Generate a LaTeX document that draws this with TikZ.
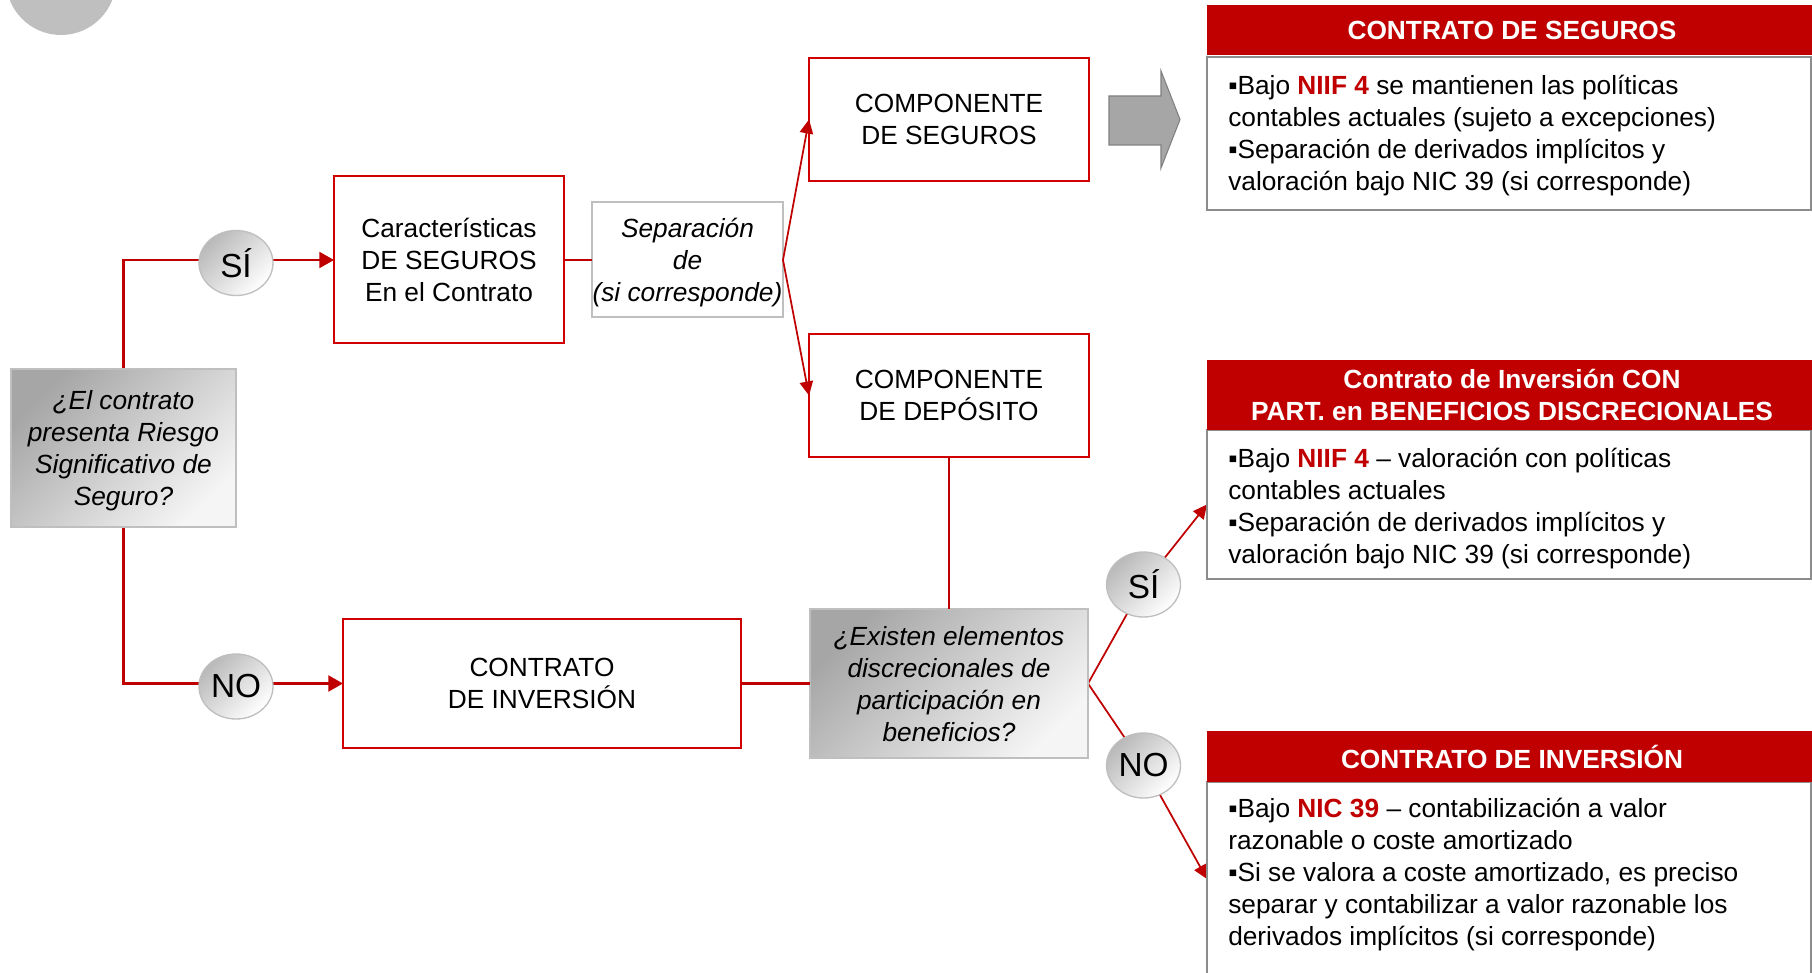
\documentclass[tikz,border=0pt]{standalone}
\usepackage{fontspec}
\setmainfont{Liberation Sans}
\usetikzlibrary{arrows.meta,shapes.geometric}
\pgfdeclarelayer{bg}
\pgfsetlayers{bg,main}
\definecolor{cred}{HTML}{C00000}
\definecolor{bred}{HTML}{D00000}
\definecolor{qgray}{HTML}{A6A6A6}
\definecolor{bgray}{HTML}{BFBFBF}
\definecolor{boxgray}{HTML}{8C8C8C}
\tikzset{
  txt/.style={font=\fontsize{19.7}{24}\selectfont},
  redbox/.style={rectangle, draw=bred, line width=1.5pt, fill=white, inner sep=0pt, outer sep=0pt, align=center, txt, text depth=0pt},
  qbox/.style={rectangle, draw=bgray, line width=1.5pt, inner sep=0pt, outer sep=0pt, align=center, text depth=0pt,
     font=\fontsize{19.7}{24}\selectfont\itshape, top color=qgray, bottom color=white!96!black, shading angle=45},
  sepbox/.style={rectangle, draw=bgray, line width=1.5pt, fill=white, inner sep=0pt, outer sep=0pt, align=center, text depth=0pt,
     font=\fontsize{19.7}{24}\selectfont\itshape},
  yn/.style={ellipse, draw=bgray, line width=1pt, top color=gray!55, bottom color=white, shading angle=45,
     inner sep=0pt, outer sep=0pt, minimum width=55.5pt, minimum height=48.75pt, font=\fontsize{25}{30}\selectfont},
  hdr/.style={rectangle, fill=cred, text=white, font=\bfseries\fontsize{19.7}{24}\selectfont, align=center,
     inner sep=0pt, outer sep=0pt, minimum width=457.5pt},
  bodybox/.style={rectangle, draw=boxgray, line width=1.5pt, fill=white, inner sep=0pt, outer sep=0pt, minimum width=453pt},
  bodytxt/.style={txt, align=left, anchor=west, inner sep=0pt},
  conn/.style={draw=cred, line width=1.6pt},
  arr/.style={conn, -{Triangle[length=11pt,width=12pt]}},
  diag/.style={draw=cred, line width=1.3pt, -{Triangle[length=10.5pt,width=10pt]}},
}
\newcommand{\hl}[1]{\textbf{\textcolor{cred}{#1}}}
\begin{document}
\begin{tikzpicture}[x=0.75pt,y=-0.75pt]
\useasboundingbox (0,0) rectangle (1812,973);
\begin{pgfonlayer}{bg}
\fill[white] (0,0) rectangle (1812,973);
\end{pgfonlayer}
\fill[bgray] (61,-20) circle[radius=41.25pt];

% left flow
\node[qbox, minimum width=168.75pt, minimum height=118.5pt] (q1) at (123.5,448) {¿El contrato\\presenta Riesgo\\Significativo de\\Seguro?};
\node[yn] (si1) at (236,263) {SÍ};
\node[redbox, minimum width=172.5pt, minimum height=125.25pt] (car) at (449,260) {Características\\DE SEGUROS\\En el Contrato};
\node[sepbox, minimum width=143.25pt, minimum height=86.25pt] (sep) at (687.5,260) {Separación\\de\\(si corresponde)};
\node[redbox, minimum width=210pt, minimum height=92.25pt] (seg) at (949,119.5) {COMPONENTE\\DE SEGUROS};
\node[redbox, minimum width=210pt, minimum height=92.25pt] (dep) at (949,395.5) {COMPONENTE\\DE DEPÓSITO};
\node[yn] (no1) at (236,686.5) {NO};
\node[redbox, minimum width=298.5pt, minimum height=96.75pt] (ci) at (542,683.5) {CONTRATO\\DE INVERSIÓN};
\node[qbox, minimum width=208.5pt, minimum height=111.75pt] (q2) at (949,683.5) {¿Existen elementos\\discrecionales de\\participación en\\beneficios?};
\node[yn] (si2) at (1143.5,584.5) {SÍ};
\node[yn] (no2) at (1143.5,765.5) {NO};

% block arrow
\draw[draw=gray, fill=qgray, line width=0.8pt] (1109,96) -- (1161,96) -- (1161,71) -- (1180,119.5) -- (1161,168) -- (1161,145) -- (1109,145) -- cycle;

% right boxes
\node[bodybox, minimum height=114.75pt] (body1) at (1509,133.5) {};
\node[hdr, minimum height=37.5pt] (hdr1) at (1512,30) {CONTRATO DE SEGUROS};
\node[bodytxt] (txt1) at (1228,135.5) {▪Bajo \hl{NIIF 4} se mantienen las políticas\\contables actuales (sujeto a excepciones)\\▪Separación de derivados implícitos y\\valoración bajo NIC 39 (si corresponde)};

\node[bodybox, minimum height=111.75pt] (body2) at (1509,504.5) {};
\node[hdr, minimum height=52.5pt] (hdr2) at (1512,394.5) {Contrato de Inversión CON\\PART. en BENEFICIOS DISCRECIONALES};
\node[bodytxt] (txt2) at (1228,508.5) {▪Bajo \hl{NIIF 4} – valoración con políticas\\contables actuales\\▪Separación de derivados implícitos y\\valoración bajo NIC 39 (si corresponde)};

\node[bodybox, minimum height=145.5pt] (body3) at (1509,879) {};
\node[hdr, minimum height=38.25pt] (hdr3) at (1512,756.5) {CONTRATO DE INVERSIÓN};
\node[bodytxt] (txt3) at (1228,874.5) {▪Bajo \hl{NIC 39} – contabilización a valor\\razonable o coste amortizado\\▪Si se valora a coste amortizado, es preciso\\separar y contabilizar a valor razonable los\\derivados implícitos (si corresponde)};

% connectors
\begin{pgfonlayer}{bg}
\draw[arr] (q1.north) |- (car.west);
\draw[arr] (q1.south) |- (ci.west);
\draw[diag] (q2.east) -- (si2.center) -- (body2.west);
\draw[diag] (q2.east) -- (no2.center) -- (body3.west);
\end{pgfonlayer}
\draw[conn] (car.east) -- (sep.west);
\draw[diag] (sep.east) -- (seg.west);
\draw[diag] (sep.east) -- (dep.west);
\draw[conn] (dep.south) -- (q2.north);
\draw[conn] (ci.east) -- (q2.west);
\end{tikzpicture}
\end{document}
